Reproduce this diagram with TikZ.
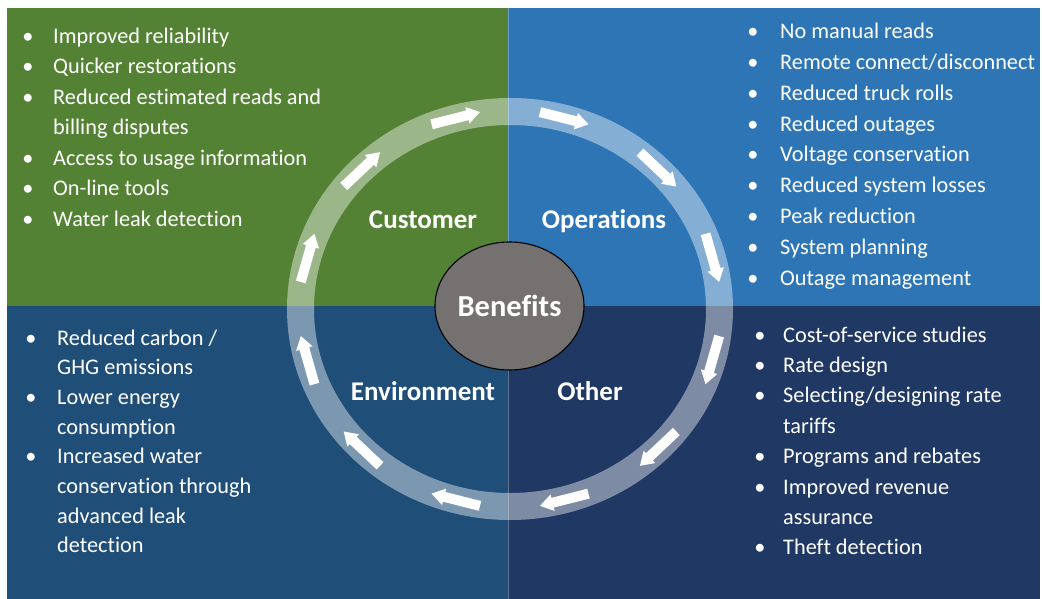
\documentclass[tikz,border=0pt]{standalone}
\usepackage{fontspec}
\setmainfont{Carlito}[Ligatures=NoCommon]
\usetikzlibrary{shapes.geometric}
\definecolor{qgreen}{HTML}{548235}
\definecolor{qblue}{HTML}{2E75B6}
\definecolor{qdblue}{HTML}{1F4E79}
\definecolor{qnavy}{HTML}{203864}
\definecolor{egray}{HTML}{767171}
\newcommand\blist[6]{%
  \foreach [count=\i] \bu/\tx in {#6} {%
    \pgfmathsetmacro\yy{#4+(\i-1)*#5}
    \node[txt] (#1\i) at (#3,\yy) {\tx};
    \ifnum\bu=1 \node[txt,anchor=base] (#1b\i) at (#2,\yy) {\textbullet};\fi
  }}
\begin{document}
\begin{tikzpicture}[x=1pt,y=-1pt,
  txt/.style={anchor=base west,inner sep=0pt,text=white,font=\fontsize{22.3}{26}\selectfont},
  ttl/.style={anchor=base,inner sep=0pt,text=white,font=\fontsize{27}{30}\selectfont\bfseries},
  ringarrow/.style={fill=white}]
\useasboundingbox (0,0) rectangle (1042,599);
\fill[white] (0,0) rectangle (1042,599);
% quadrants
\fill[qgreen] (7,8) rectangle (508,306);
\fill[qblue] (508,8) rectangle (1040,306);
\fill[qdblue] (7,306) rectangle (508,599);
\fill[qnavy] (508,306) rectangle (1040,599);
\draw[white,opacity=0.3,line width=1pt] (508,8) -- (508,599);
% ring
\fill[white,fill opacity=0.42,even odd rule]
  (510,309) ellipse [x radius=223, y radius=211]
  (510,309) ellipse [x radius=196, y radius=184];
% arrows on the ring
\foreach \t in {15,45,...,345} {
  \pgfmathsetmacro\px{510+209.5*cos(\t)}
  \pgfmathsetmacro\py{309-197.5*sin(\t)}
  \pgfmathsetmacro\ang{atan2(-197.5*cos(\t),209.5*sin(\t))}
  \fill[ringarrow,shift={(\px,\py)},rotate=\ang]
    (-25,-5) -- (12,-5) -- (12,-8.5) -- (25,0) -- (12,8.5) -- (12,5) -- (-25,5) -- cycle;
}
% center
\node[ellipse,draw=black,line width=1.1pt,fill=egray,minimum width=149pt,minimum height=128pt,inner sep=0pt,
  text=white,font=\fontsize{30.5}{34}\selectfont\bfseries] (ben) at (509.5,306) {Benefits};
% titles
\node[ttl] (cust) at (423,228) {Customer};
\node[ttl] (oper) at (604,228) {Operations};
\node[ttl] (env) at (423,400) {Environment};
\node[ttl] (oth) at (590,400) {Other};
% lists
\blist{tl}{28}{53}{43.5}{30.5}{1/Improved reliability,1/Quicker restorations,1/Reduced estimated reads and,0/billing disputes,1/Access to usage information,1/On-line tools,1/Water leak detection}
\blist{tr}{753}{780}{39}{30.75}{1/No manual reads,1/{Remote connect/disconnect},1/Reduced truck rolls,1/Reduced outages,1/Voltage conservation,1/Reduced system losses,1/Peak reduction,1/System planning,1/Outage management}
\blist{bl}{31}{57}{345}{29.7}{1/{Reduced carbon /},0/GHG emissions,1/Lower energy,0/consumption,1/Increased water,0/conservation through,0/advanced leak,0/detection}
\blist{br}{760}{783}{342}{30.4}{1/Cost-of-service studies,1/Rate design,1/{Selecting/designing rate},0/tariffs,1/Programs and rebates,1/Improved revenue,0/assurance,1/Theft detection}
\end{tikzpicture}
\end{document}
